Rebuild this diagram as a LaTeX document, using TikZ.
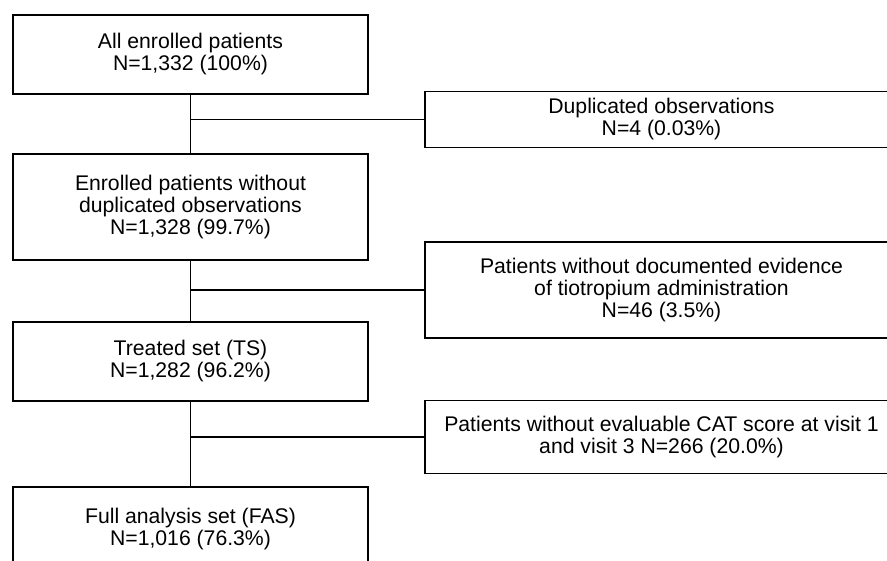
\documentclass[tikz,border=0pt]{standalone}
\usepackage{fontspec}
\setmainfont{Liberation Sans}

\tikzset{
    flowbox/.style={draw, line width=1.3pt, align=center, inner sep=0pt,
        font=\fontsize{21.2}{22}\selectfont},
    mainbox/.style={flowbox, minimum width=355pt},
    exclbox/.style={flowbox, minimum width=473pt},
    link/.style={line width=1.3pt},
}

\begin{document}
\begin{tikzpicture}[x=1pt, y=-1pt]
\useasboundingbox (0,0) rectangle (887,561);
\clip (0,0) rectangle (887,561);

% Main flow
\node[mainbox, minimum height=79pt] (all) at (190.5,54.5)
    {All enrolled patients\\N=1,332 (100\%)};
\node[mainbox, minimum height=106pt] (nodup) at (190.5,207)
    {Enrolled patients without\\duplicated observations\\N=1,328 (99.7\%)};
\node[mainbox, minimum height=79pt] (ts) at (190.5,361.5)
    {Treated set (TS)\\N=1,282 (96.2\%)};
\node[mainbox, minimum height=85pt] (fas) at (190.5,529.5)
    {Full analysis set (FAS)\\N=1,016 (76.3\%)};

% Exclusions
\node[exclbox, minimum height=56pt] (dup) at (661.5,119.5)
    {Duplicated observations\\N=4 (0.03\%)};
\node[exclbox, minimum height=96pt] (notio) at (661.5,290)
    {Patients without documented evidence\\of tiotropium administration\\N=46 (3.5\%)};
\node[exclbox, minimum height=73pt] (nocat) at (661.5,437)
    {Patients without evaluable CAT score at visit 1\\and visit 3 N=266 (20.0\%)};

% Connectors
\foreach \a/\b/\x in {all/nodup/dup, nodup/ts/notio, ts/fas/nocat} {
    \draw[link] (\a.south) -- (\b.north);
    \draw[link] (\x.west) -- (\x.west -| \a.south);
}
\end{tikzpicture}
\end{document}
